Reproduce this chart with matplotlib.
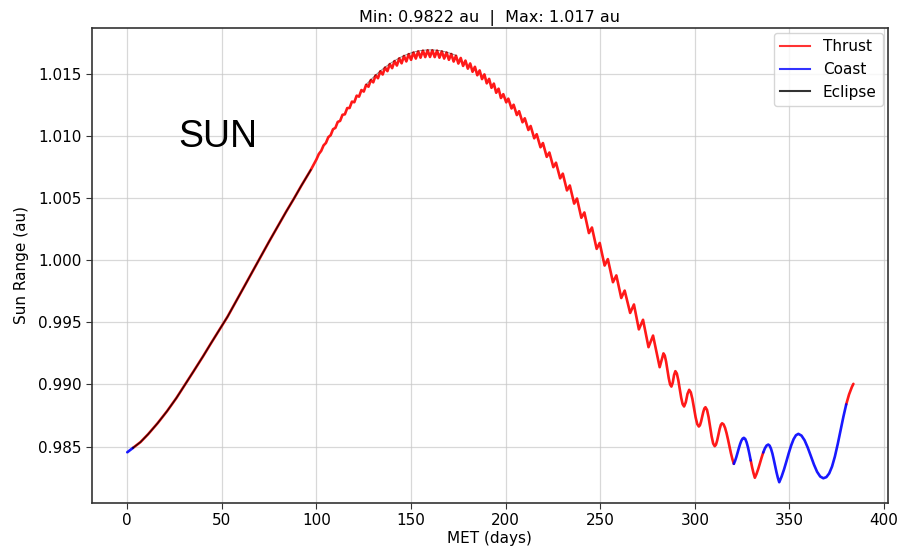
#Sun range along the trajectory, coloured by flight mode

import numpy as np
import matplotlib
matplotlib.use("Agg")
import matplotlib.pyplot as plt
from matplotlib.lines import Line2D

##############
#### Data ####
##############

# smooth early part (days, au)
early_days = [0, 3, 7, 11, 16, 21, 26, 31, 35, 40, 44, 48, 53, 57, 62, 66, 70, 75, 79, 84, 88, 92, 97]
early_au = [0.98455, 0.98490, 0.98537, 0.98600, 0.98688, 0.98785, 0.98892, 0.99010, 0.99105, 0.99225,
            0.99325, 0.99423, 0.99545, 0.99655, 0.99792, 0.99903, 1.00013, 1.00150, 1.00257, 1.00390,
            1.00492, 1.00598, 1.00725]

# small wiggles around the maximum : lows and highs
low_days = [100.0, 102.5, 105.0, 107.5, 110.0, 112.5, 115.0, 117.5, 120.0, 122.5,
            125.0, 127.5, 130.0, 132.5, 135.0, 137.5, 140.0, 142.5, 145.0, 147.5,
            150.0, 152.5, 155.0, 157.5, 160.0, 162.5, 165.0, 167.5, 170.0, 172.5,
            175.0, 177.5, 180.0, 182.5, 185.0, 187.5, 190.0, 192.5, 195.0, 197.5]
low_au = [1.00810, 1.00878, 1.00942, 1.01004, 1.01063, 1.01119, 1.01172, 1.01223, 1.01269, 1.01314,
          1.01355, 1.01394, 1.01429, 1.01462, 1.01492, 1.01519, 1.01543, 1.01564, 1.01582, 1.01597,
          1.01610, 1.01620, 1.01627, 1.01632, 1.01633, 1.01632, 1.01627, 1.01620, 1.01610, 1.01596,
          1.01580, 1.01561, 1.01539, 1.01514, 1.01486, 1.01455, 1.01421, 1.01385, 1.01345, 1.01303]
high_days = [101.25, 103.75, 106.25, 108.75, 111.25, 113.75, 116.25, 118.75, 121.25, 123.75,
             126.25, 128.75, 131.25, 133.75, 136.25, 138.75, 141.25, 143.75, 146.25, 148.75,
             151.25, 153.75, 156.25, 158.75, 161.25, 163.75, 166.25, 168.75, 171.25, 173.75,
             176.25, 178.75, 181.25, 183.75, 186.25, 188.75, 191.25, 193.75, 196.25, 198.75]
high_au = [1.00853, 1.00922, 1.00988, 1.01052, 1.01111, 1.01168, 1.01222, 1.01274, 1.01322, 1.01367,
           1.01409, 1.01448, 1.01485, 1.01518, 1.01548, 1.01576, 1.01600, 1.01622, 1.01641, 1.01656,
           1.01669, 1.01678, 1.01684, 1.01687, 1.01687, 1.01684, 1.01678, 1.01669, 1.01657, 1.01643,
           1.01625, 1.01604, 1.01581, 1.01554, 1.01525, 1.01493, 1.01457, 1.01419, 1.01378, 1.01334]

# descending part, wiggles getting bigger
desc_days = [200.3, 201.4, 203.1, 204.2, 205.9, 207.1, 208.9, 210.1, 212.0, 213.2,
             215.1, 216.4, 218.4, 219.7, 221.7, 223.1, 225.2, 226.6, 228.8, 230.2,
             232.4, 233.9, 236.2, 237.7, 240.0, 241.6, 244.0, 245.6, 248.1, 249.7,
             252.3, 254.0, 256.7, 258.5, 261.1, 262.9, 265.8, 267.8, 270.4, 272.6,
             275.5, 277.9, 281.4, 283.4]
desc_au = [1.01268, 1.01298, 1.01219, 1.01249, 1.01166, 1.01197, 1.01108, 1.01140, 1.01046, 1.01078,
           1.00979, 1.01012, 1.00907, 1.00941, 1.00830, 1.00865, 1.00747, 1.00783, 1.00657, 1.00695,
           1.00560, 1.00600, 1.00454, 1.00495, 1.00340, 1.00383, 1.00217, 1.00262, 1.00090, 1.00138,
           0.99956, 1.00008, 0.99822, 0.99877, 0.99695, 0.99755, 0.99575, 0.99643, 0.99443, 0.99520,
           0.99300, 0.99393, 0.99139, 0.99250]

# last big swings near the minimum
tail_days = [284.1, 284.8, 285.5, 286.2, 286.9, 287.6, 288.3, 289.0, 289.7,
             290.47, 291.23, 292.0, 292.77, 293.53, 294.3, 295.2, 296.1, 297.0,
             297.85, 298.7, 299.55, 300.4, 301.25, 302.1, 302.68, 303.27, 303.85, 304.43, 305.02, 305.6,
             306.42, 307.23, 308.05, 308.87, 309.68, 310.5, 311.15, 311.8, 312.45, 313.1, 313.75, 314.4,
             315.18, 315.95, 316.73, 317.5, 318.28, 319.05, 319.83, 320.6,
             321.26, 321.93, 322.59, 323.25, 323.91, 324.58, 325.24, 325.9,
             326.63, 327.35, 328.08, 328.8, 329.53, 330.25, 330.98, 331.7,
             332.59, 333.48, 334.36, 335.25, 336.14, 337.03, 337.91, 338.8,
             339.53, 340.25, 340.98, 341.7, 342.43, 343.15, 343.88, 344.6,
             345.86, 347.13, 348.39, 349.65, 350.91, 352.18, 353.44, 354.7,
             356.35, 358.0, 359.65, 361.3, 362.95, 364.6, 366.25, 367.9,
             369.5, 371.0, 372.5, 374.0, 375.5, 377.0, 378.5, 380.0, 381.5, 383.0, 383.8]
tail_au = [0.99232, 0.99183, 0.99117, 0.99050, 0.99001, 0.98983, 0.99014, 0.99076, 0.99107,
           0.99088, 0.99036, 0.98965, 0.98894, 0.98842, 0.98823, 0.98857, 0.98924, 0.98957,
           0.98937, 0.98883, 0.98810, 0.98736, 0.98682, 0.98662, 0.98672, 0.98701, 0.98740, 0.98778, 0.98807, 0.98817,
           0.98796, 0.98739, 0.98661, 0.98582, 0.98525, 0.98504, 0.98516, 0.98550, 0.98596, 0.98642, 0.98676, 0.98688,
           0.98679, 0.98652, 0.98610, 0.98559, 0.98503, 0.98448, 0.98400, 0.98362,
           0.98386, 0.98417, 0.98452, 0.98488, 0.98521, 0.98548, 0.98565, 0.98571,
           0.98562, 0.98535, 0.98494, 0.98444, 0.98389, 0.98335, 0.98288, 0.98250,
           0.98281, 0.98320, 0.98365, 0.98411, 0.98453, 0.98487, 0.98509, 0.98517,
           0.98508, 0.98483, 0.98445, 0.98397, 0.98345, 0.98294, 0.98249, 0.98214,
           0.98260, 0.98317, 0.98382, 0.98449, 0.98510, 0.98560, 0.98592, 0.98603,
           0.98589, 0.98551, 0.98493, 0.98425, 0.98356, 0.98298, 0.98260, 0.98246,
           0.98255, 0.98285, 0.98340, 0.98420, 0.98520, 0.98630, 0.98740, 0.98840, 0.98920, 0.98980, 0.99005]

# flight mode windows (days)
thrust_windows = [(3, 320.6), (329.53, 336.14), (380.0, 384)]
coast_windows = [(0, 3), (320.6, 329.53), (336.14, 380.0)]
eclipse_window = (3, 97)
eclipse_top_window = (124, 176)

title_txt = "Min: 0.9822 au  |  Max: 1.017 au"

##############
#### Code ####
##############

mid_days = np.column_stack([low_days, high_days]).ravel()
mid_au = np.column_stack([low_au, high_au]).ravel()
days = np.concatenate([early_days, mid_days, desc_days, tail_days])
au = np.concatenate([early_au, mid_au, desc_au, tail_au])
high_days = np.array(high_days)
high_au = np.array(high_au)

fig = plt.figure(figsize=(9, 5.51), dpi=100)
ax = fig.add_axes([0.1019, 0.088, 0.8848, 0.8612])

for lo, hi in thrust_windows:
    m = (days >= lo) & (days <= hi)
    ax.plot(days[m], au[m], color='red', lw=1.9, alpha=0.9, solid_capstyle='round')
for lo, hi in coast_windows:
    m = (days >= lo) & (days <= hi)
    ax.plot(days[m], au[m], color='blue', lw=1.9, alpha=0.9, solid_capstyle='round')

# eclipses : dark core on the early arc, dark fringe on the upper side of the maximum
m = (days >= eclipse_window[0]) & (days <= eclipse_window[1])
ax.plot(days[m], au[m], color='black', lw=1.1, alpha=0.8)
m = (high_days >= eclipse_top_window[0]) & (high_days <= eclipse_top_window[1])
ax.plot(high_days[m], high_au[m] + 0.00003, color='black', lw=0.7, alpha=0.45)

ax.set_xlim(-18.8, 402.1)
ax.set_ylim(0.98051, 1.01866)
ax.set_xticks(np.arange(0, 401, 50))
ax.set_yticks([0.985, 0.990, 0.995, 1.000, 1.005, 1.010, 1.015])
ax.set_yticklabels([f"{v:.3f}" for v in ax.get_yticks()])
ax.tick_params(labelsize=11, length=4, color='#333333')
ax.grid(True, color='#c8c8c8', lw=0.9, alpha=0.7)
for sp in ax.spines.values():
    sp.set_color('#333333')
    sp.set_linewidth(1.2)

ax.set_xlabel("MET (days)", fontsize=11, labelpad=2)
ax.set_ylabel("Sun Range (au)", fontsize=11, labelpad=6)
ax.set_title(title_txt, fontsize=11.5, pad=4)

ax.text(0.1084, 0.749, "SUN", transform=ax.transAxes, fontsize=27,
        family=['Liberation Sans', 'DejaVu Sans'], va='baseline', ha='left')

handles = [Line2D([], [], color='red', lw=1.5, alpha=0.8),
           Line2D([], [], color='blue', lw=1.5, alpha=0.8),
           Line2D([], [], color='black', lw=1.5, alpha=0.8)]
ax.legend(handles, ["Thrust", "Coast", "Eclipse"], loc='upper right', fontsize=11,
          borderaxespad=0.35)

plt.savefig("out.png", dpi=100)
plt.close()
